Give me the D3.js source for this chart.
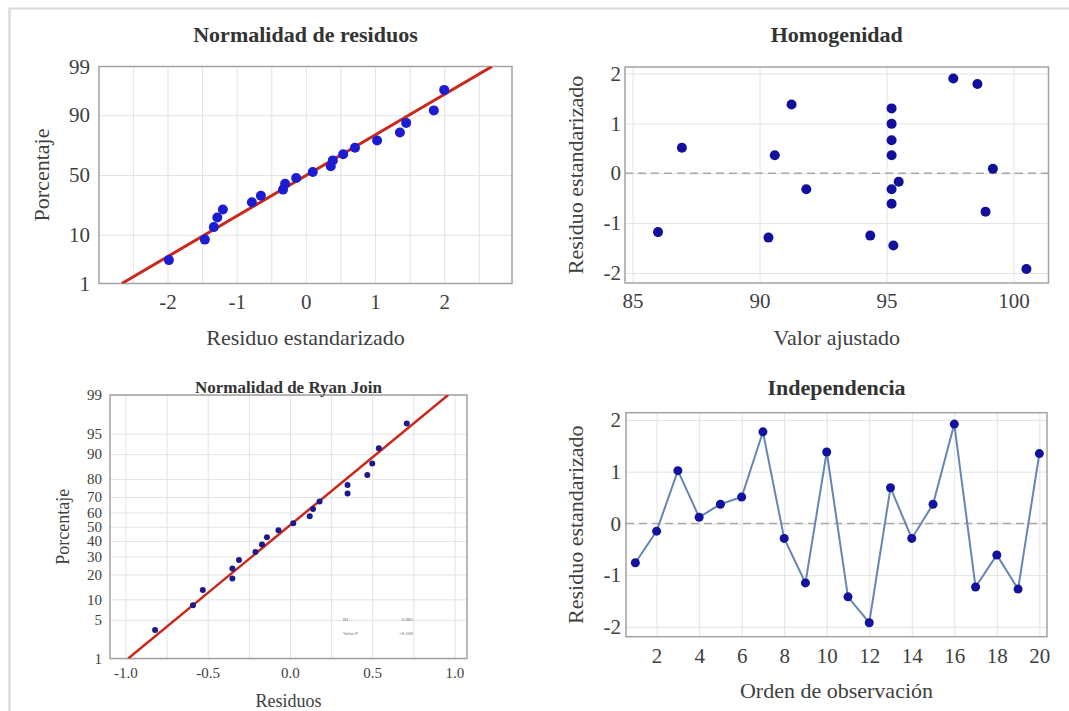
<!DOCTYPE html>
<html>
<head>
<meta charset="utf-8">
<script src="https://cdn.jsdelivr.net/npm/d3@7"></script>
<style>
  body { margin: 0; background: #fff; }
</style>
</head>
<body>
<div id="chart"></div>
<script>
//plotting positions (median ranks, %) shared by both probability plots
var rankPct = [3.4, 8.3, 13.2, 18.1, 23.0, 27.9, 32.8, 37.7, 42.6, 47.5, 52.5, 57.4, 62.3, 67.2, 72.1, 77.0, 81.9, 86.8, 91.7, 96.6];

//Normalidad de residuos
var normResid = [-1.98, -1.46, -1.33, -1.28, -1.20, -0.78, -0.65, -0.33, -0.30, -0.14, 0.10, 0.36, 0.39, 0.54, 0.71, 1.03, 1.36, 1.45, 1.85, 2.00];
var normFit = [0.015, 1.15]; //mean, sd of fitted line
var normPctTicks = [1, 10, 50, 90, 99];
var normXTicks = [-2, -1, 0, 1, 2];
var normXGrid = [-2.5, -2, -1.5, -1, -0.5, 0, 0.5, 1, 1.5, 2, 2.5];

//Homogenidad
var homFitted = [86.0, 86.94, 90.35, 90.6, 91.26, 91.84, 94.36, 95.2, 95.2, 95.2, 95.2, 95.2, 95.2, 95.27, 95.48, 97.63, 98.58, 98.9, 99.19, 100.51];
var homResid = [-1.18, 0.51, -1.29, 0.36, 1.38, -0.32, -1.25, 1.30, 0.99, 0.66, 0.36, -0.32, -0.61, -1.45, -0.17, 1.90, 1.79, -0.77, 0.09, -1.92];
var homXTicks = [85, 90, 95, 100];
var residTicks = [-2, -1, 0, 1, 2];

//Normalidad de Ryan Join
var rjResid = [-0.82, -0.59, -0.53, -0.35, -0.35, -0.31, -0.21, -0.17, -0.14, -0.07, 0.02, 0.12, 0.14, 0.18, 0.35, 0.35, 0.47, 0.50, 0.54, 0.71];
var rjFit = [-0.011, 0.418];
var rjPctTicks = [1, 5, 10, 20, 30, 40, 50, 60, 70, 80, 90, 95, 99];
var rjXTicks = [-1, -0.5, 0, 0.5, 1];
var rjXGrid = [-1, -0.75, -0.5, -0.25, 0, 0.25, 0.5, 0.75, 1];
var rjStatNames = ["RJ", "Valor P"];
var rjStatValues = ["0.985", ">0.100"];

//Independencia
var obsOrder = [1, 2, 3, 4, 5, 6, 7, 8, 9, 10, 11, 12, 13, 14, 15, 16, 17, 18, 19, 20];
var obsResid = [-0.76, -0.15, 1.02, 0.12, 0.37, 0.51, 1.77, -0.29, -1.15, 1.38, -1.42, -1.92, 0.69, -0.29, 0.37, 1.92, -1.23, -0.61, -1.27, 1.35];
var obsXTicks = [2, 4, 6, 8, 10, 12, 14, 16, 18, 20];

var serif = "'Liberation Serif', 'Times New Roman', serif";

//tick formats with a plain hyphen as minus sign
function fmt(spec) {
	var f = d3.format(spec);
	return function(d) { return f(d).replace("\u2212", "-"); };
}

//inverse normal cdf (Acklam), used for the probability axis
function probit(p) {
	var a = [-3.969683028665376e+01, 2.209460984245205e+02, -2.759285104469687e+02, 1.383577518672690e+02, -3.066479806614716e+01, 2.506628277459239e+00],
		b = [-5.447609879822406e+01, 1.615858368580409e+02, -1.556989798598866e+02, 6.680131188771972e+01, -1.328068155288572e+01],
		c = [-7.784894002430293e-03, -3.223964580411365e-01, -2.400758277161838e+00, -2.549732539343734e+00, 4.374664141464968e+00, 2.938163982698783e+00],
		d = [7.784695709041462e-03, 3.224671290700398e-01, 2.445134137142996e+00, 3.754408661907416e+00];
	var plow = 0.02425, q, r;
	if (p < plow) {
		q = Math.sqrt(-2 * Math.log(p));
		return (((((c[0]*q+c[1])*q+c[2])*q+c[3])*q+c[4])*q+c[5]) / ((((d[0]*q+d[1])*q+d[2])*q+d[3])*q+1);
	}
	if (p > 1 - plow) {
		q = Math.sqrt(-2 * Math.log(1 - p));
		return -(((((c[0]*q+c[1])*q+c[2])*q+c[3])*q+c[4])*q+c[5]) / ((((d[0]*q+d[1])*q+d[2])*q+d[3])*q+1);
	}
	q = p - 0.5; r = q * q;
	return (((((a[0]*r+a[1])*r+a[2])*r+a[3])*r+a[4])*r+a[5])*q / (((((b[0]*r+b[1])*r+b[2])*r+b[3])*r+b[4])*r+1);
}
function z(pct) { return probit(pct / 100); }

var svg = d3.select("#chart")
	.append("svg")
		.attr("width", 1069)
		.attr("height", 711);

//frame lines of the screenshot
svg.append("line").attr("x1", 9).attr("x2", 1069).attr("y1", 8.5).attr("y2", 8.5)
	.attr("stroke", "#dadada").attr("stroke-width", 2);
svg.append("line").attr("x1", 9.5).attr("x2", 9.5).attr("y1", 8).attr("y2", 711)
	.attr("stroke", "#dadada").attr("stroke-width", 2.5);

//generic panel: grid, box, axes, titles
function makePanel(p, id) {
	var w = p.right - p.left, h = p.bottom - p.top;
	var g = svg.append("g").attr("transform", "translate(" + p.left + "," + p.top + ")");
	var x = d3.scaleLinear().domain(p.xDomain).range([0, w]);
	var y = d3.scaleLinear().domain(p.yDomain).range([h, 0]);

	var gx = g.append("g").call(d3.axisBottom(x).tickValues(p.xGrid).tickSize(h).tickFormat(""));
	var gy = g.append("g").call(d3.axisLeft(y).tickValues(p.yGrid).tickSize(-w).tickFormat(""));
	[gx, gy].forEach(function(s) {
		s.select(".domain").remove();
		s.selectAll("line").attr("stroke", "#e3e3e3").attr("stroke-width", 1);
	});

	if (p.zeroLine) {
		g.append("line")
			.attr("x1", 0).attr("x2", w)
			.attr("y1", y(0)).attr("y2", y(0))
			.attr("stroke", "#a8a8a8").attr("stroke-width", 1.5)
			.attr("stroke-dasharray", "8,5");
	}

	g.append("rect")
		.attr("width", w).attr("height", h)
		.attr("fill", "none").attr("stroke", "#a3a3a3").attr("stroke-width", 1.5);

	var xAxis = g.append("g")
		.attr("transform", "translate(0," + h + ")")
		.call(d3.axisBottom(x).tickValues(p.xTicks).tickSize(0).tickPadding(p.xPad).tickFormat(p.xFormat));
	var yAxis = g.append("g")
		.call(d3.axisLeft(y).tickValues(p.yTicks).tickSize(0).tickPadding(p.yPad).tickFormat(p.yFormat));
	[xAxis, yAxis].forEach(function(s) {
		s.select(".domain").remove();
		s.attr("font-family", serif).attr("font-size", p.tickSize);
		s.selectAll("text").attr("fill", "#404040");
	});

	svg.append("text") //title
		.attr("x", (p.left + p.right) / 2).attr("y", p.titleY)
		.attr("text-anchor", "middle")
		.attr("font-family", serif).attr("font-weight", "bold").attr("font-size", p.titleSize)
		.attr("fill", "#333")
		.text(p.title);
	svg.append("text") //x axis label
		.attr("x", (p.left + p.right) / 2).attr("y", p.xLabelY)
		.attr("text-anchor", "middle")
		.attr("font-family", serif).attr("font-size", p.labelSize)
		.attr("fill", "#404040")
		.text(p.xLabel);
	svg.append("text") //y axis label
		.attr("transform", "translate(" + p.yLabelX + "," + (p.top + p.bottom) / 2 + ") rotate(-90)")
		.attr("text-anchor", "middle")
		.attr("font-family", serif).attr("font-size", p.labelSize)
		.attr("fill", "#404040")
		.text(p.yLabel);

	svg.append("clipPath").attr("id", id)
		.append("rect").attr("width", w).attr("height", h);

	return { g: g, x: x, y: y };
}

//fitted line of a probability plot, from 1% to 99%
function fitLine(panel, fit, id, width) {
	var ends = [1, 99];
	panel.g.append("path")
		.datum(ends)
		.attr("clip-path", "url(#" + id + ")")
		.attr("fill", "none")
		.attr("stroke", "#c9281c")
		.attr("stroke-width", width)
		.attr("d", d3.line()
			.x(function(d) { return panel.x(fit[0] + fit[1] * z(d)); })
			.y(function(d) { return panel.y(z(d)); }));
}

//---- Normalidad de residuos
var p1 = makePanel({
	left: 99, right: 512, top: 66.5, bottom: 283.5,
	xDomain: [-2.99, 2.98], yDomain: [z(1), z(99)],
	xTicks: normXTicks, xGrid: normXGrid, xFormat: fmt("d"),
	yTicks: normPctTicks.map(z), yGrid: [10, 50, 90].map(z),
	yFormat: function(d, i) { return normPctTicks[i]; },
	xPad: 11, yPad: 9, tickSize: 21,
	title: "Normalidad de residuos", titleY: 42, titleSize: 22,
	xLabel: "Residuo estandarizado", xLabelY: 345, yLabel: "Porcentaje", yLabelX: 49, labelSize: 22
}, "clip1");
fitLine(p1, normFit, "clip1", 3);
p1.g.selectAll("circle")
	.data(normResid)
	.enter()
	.append("circle")
		.attr("cx", function(d) { return p1.x(d); })
		.attr("cy", function(d, i) { return p1.y(z(rankPct[i])); })
		.attr("r", 5)
		.attr("fill", "#1c1cd2");

//---- Homogenidad
var p2 = makePanel({
	left: 625, right: 1048.5, top: 67, bottom: 283,
	xDomain: [84.7, 101.38], yDomain: [-2.2, 2.13],
	xTicks: homXTicks, xGrid: homXTicks, xFormat: fmt("d"),
	yTicks: residTicks, yGrid: residTicks, yFormat: fmt("d"),
	xPad: 10, yPad: 4, tickSize: 21, zeroLine: true,
	title: "Homogenidad", titleY: 42, titleSize: 22,
	xLabel: "Valor ajustado", xLabelY: 345, yLabel: "Residuo estandarizado", yLabelX: 583, labelSize: 22
}, "clip2");
p2.g.selectAll("circle")
	.data(homResid)
	.enter()
	.append("circle")
		.attr("cx", function(d, i) { return p2.x(homFitted[i]); })
		.attr("cy", function(d) { return p2.y(d); })
		.attr("r", 5)
		.attr("fill", "#10109c");

//---- Normalidad de Ryan Join
var p3 = makePanel({
	left: 110, right: 467, top: 395, bottom: 658.5,
	xDomain: [-1.094, 1.076], yDomain: [z(1), z(99)],
	xTicks: rjXTicks, xGrid: rjXGrid, xFormat: fmt(".1f"),
	yTicks: rjPctTicks.map(z), yGrid: rjPctTicks.map(z),
	yFormat: function(d, i) { return rjPctTicks[i]; },
	xPad: 9, yPad: 8, tickSize: 15,
	title: "Normalidad de Ryan Join", titleY: 393, titleSize: 17,
	xLabel: "Residuos", xLabelY: 707, yLabel: "Porcentaje", yLabelX: 69, labelSize: 18
}, "clip3");
fitLine(p3, rjFit, "clip3", 2.5);
p3.g.selectAll("circle")
	.data(rjResid)
	.enter()
	.append("circle")
		.attr("cx", function(d) { return p3.x(d); })
		.attr("cy", function(d, i) { return p3.y(z(rankPct[i])); })
		.attr("r", 3)
		.attr("fill", "#1a1a8c");
//small statistics box
var stats = p3.g.append("g").attr("font-family", serif).attr("font-size", 5).attr("fill", "#666");
stats.selectAll(".statName")
	.data(rjStatNames)
	.enter()
	.append("text")
		.attr("x", 233)
		.attr("y", function(d, i) { return 226 + i * 14; })
		.text(function(d) { return d; });
stats.selectAll(".statVal")
	.data(rjStatValues)
	.enter()
	.append("text")
		.attr("x", 303)
		.attr("y", function(d, i) { return 226 + i * 14; })
		.attr("text-anchor", "end")
		.text(function(d) { return d; });

//---- Independencia
var p4 = makePanel({
	left: 626, right: 1047, top: 412.7, bottom: 636.7,
	xDomain: [0.56, 20.36], yDomain: [-2.19, 2.14],
	xTicks: obsXTicks, xGrid: obsXTicks, xFormat: fmt("d"),
	yTicks: residTicks, yGrid: residTicks, yFormat: fmt("d"),
	xPad: 11, yPad: 5, tickSize: 21, zeroLine: true,
	title: "Independencia", titleY: 395, titleSize: 22,
	xLabel: "Orden de observación", xLabelY: 698, yLabel: "Residuo estandarizado", yLabelX: 583, labelSize: 22
}, "clip4");
p4.g.append("path")
	.datum(obsResid)
	.attr("fill", "none")
	.attr("stroke", "#6585b8")
	.attr("stroke-width", 2)
	.attr("d", d3.line()
		.x(function(d, i) { return p4.x(obsOrder[i]); })
		.y(function(d) { return p4.y(d); }));
p4.g.selectAll("circle")
	.data(obsResid)
	.enter()
	.append("circle")
		.attr("cx", function(d, i) { return p4.x(obsOrder[i]); })
		.attr("cy", function(d) { return p4.y(d); })
		.attr("r", 4.5)
		.attr("fill", "#12129e");
</script>
</body>
</html>
